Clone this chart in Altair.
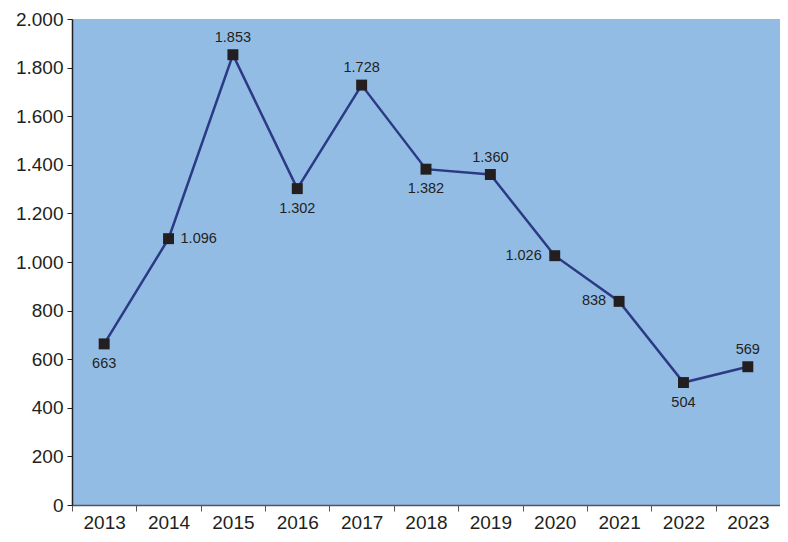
import altair as alt
import pandas as pd

years = ["2013", "2014", "2015", "2016", "2017", "2018", "2019", "2020", "2021", "2022", "2023"]
values = [663, 1096, 1853, 1302, 1728, 1382, 1360, 1026, 838, 504, 569]
label_pos = ["below", "right", "above", "below", "above", "below", "above", "left", "left", "below", "above"]

df = pd.DataFrame({"year": years, "value": values, "pos": label_pos})

FONT = "Liberation Sans"
x_enc = alt.X("year:O", sort=years,
              scale=alt.Scale(type="band", paddingInner=0, paddingOuter=0),
              axis=alt.Axis(title=None, labelAngle=0, tickBand="extent", labelFontSize=19,
                            labelFont=FONT, labelColor="#231f20", domainColor="#555555",
                            tickColor="#555555", tickSize=6, labelPadding=2, domainWidth=1.5))
y_enc = alt.Y("value:Q", scale=alt.Scale(domain=[0, 2000], nice=False),
              axis=alt.Axis(title=None, values=list(range(0, 2001, 200)), grid=False,
                            labelFontSize=19, labelFont=FONT, labelColor="#231f20",
                            labelExpr="replace(format(datum.value, ','), ',', '.')",
                            domainColor="#231f20", tickColor="#231f20", tickSize=5,
                            labelPadding=4, domainWidth=1.5))

base = alt.Chart(df).encode(x=x_enc, y=y_enc)

line = base.mark_line(color="#2b3a85", strokeWidth=2.5)
pts = base.mark_square(size=120, color="#231f20", opacity=1)

lab = base.transform_calculate(
    lbl="replace(format(datum.value, ','), ',', '.')"
)

def txt(pos, **kw):
    return lab.transform_filter(alt.datum.pos == pos).mark_text(
        font=FONT, fontSize=14.5, color="#231f20", **kw
    ).encode(text="lbl:N")

above = txt("above", dy=-17)
below = txt("below", dy=20)
left = txt("left", dx=-13, align="right")
right = txt("right", dx=12, align="left")

chart = alt.layer(line, pts, above, below, left, right).properties(
    width=708, height=486,
    autosize=alt.AutoSizeParams(type="none"),
    padding={"left": 64, "top": 11, "right": 0, "bottom": 29},
).configure_view(fill="#93bce4", stroke=None)

chart.save("out.html", embed_options={"renderer": "svg", "actions": False})
